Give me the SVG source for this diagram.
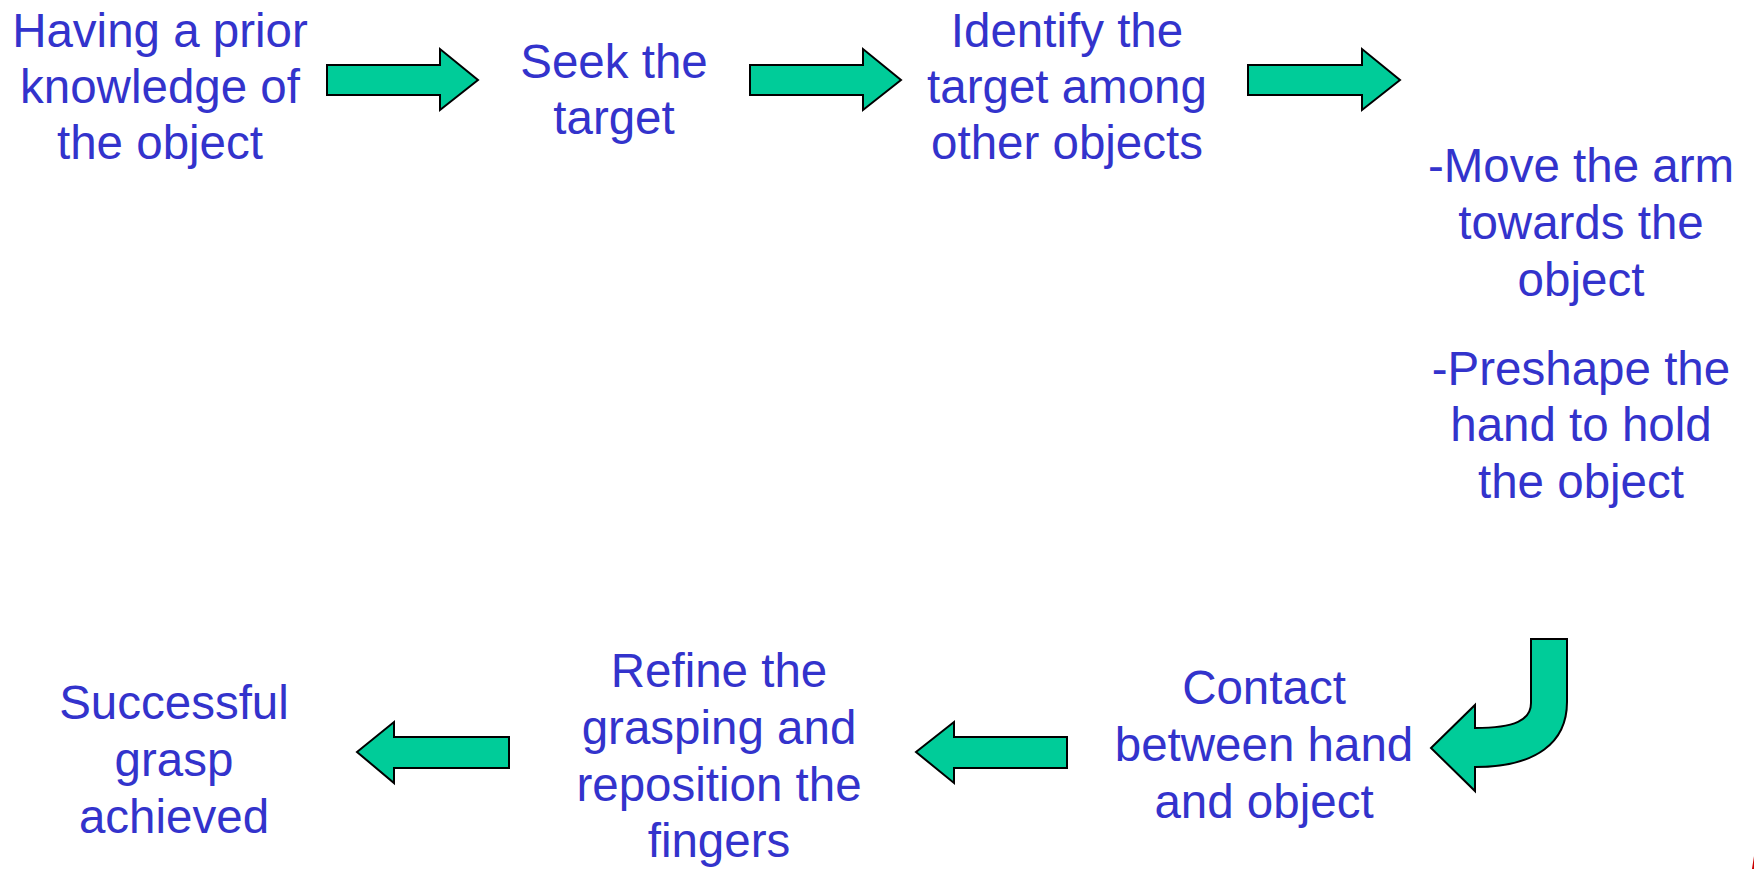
<svg xmlns="http://www.w3.org/2000/svg" width="1754" height="869" viewBox="0 0 1754 869">
<style>
.t{font-family:"Liberation Sans",Arial,sans-serif;font-size:47.5px;fill:#3333CC;text-anchor:middle}
.a{fill:#00CC99;stroke:#000;stroke-width:2;stroke-linejoin:miter}
</style>
<rect width="1754" height="869" fill="#fff"/>
<g id="n1"><text class="t" x="160" y="47">Having a prior</text><text class="t" x="160" y="103">knowledge of</text><text class="t" x="160" y="159">the object</text></g>
<g id="n2"><text class="t" x="614" y="78">Seek the</text><text class="t" x="614" y="134">target</text></g>
<g id="n3"><text class="t" x="1067" y="47">Identify the</text><text class="t" x="1067" y="103">target among</text><text class="t" x="1067" y="159">other objects</text></g>
<g id="n4"><text class="t" x="1581" y="182">-Move the arm</text><text class="t" x="1581" y="239">towards the</text><text class="t" x="1581" y="296">object</text><text class="t" x="1581" y="385">-Preshape the</text><text class="t" x="1581" y="441">hand to hold</text><text class="t" x="1581" y="498">the object</text></g>
<g id="n5"><text class="t" x="1264" y="704">Contact</text><text class="t" x="1264" y="761">between hand</text><text class="t" x="1264" y="818">and object</text></g>
<g id="n6"><text class="t" x="719" y="687">Refine the</text><text class="t" x="719" y="744">grasping and</text><text class="t" x="719" y="801">reposition the</text><text class="t" x="719" y="857">fingers</text></g>
<g id="n7"><text class="t" x="174" y="719">Successful</text><text class="t" x="174" y="776">grasp</text><text class="t" x="174" y="833">achieved</text></g>
<g id="connectors">
<path class="a" d="M327,65 H440 V49 L478,80 L440,110 V95 H327 Z"/>
<path class="a" d="M750,65 H863 V49 L901,80 L863,110 V95 H750 Z"/>
<path class="a" d="M1248,65 H1362 V49 L1400,80 L1362,110 V95 H1248 Z"/>
<path class="a" d="M1531,639 H1567 V702 C1567,742 1537,767 1475,767 V791 L1431,748 L1475,705 V728 C1515,728 1531,720 1531,703 Z"/>
<path class="a" d="M1067,737 H954 V722 L916,752 L954,783 V768 H1067 Z"/>
<path class="a" d="M509,737 H394 V722 L357,752 L394,783 V768 H509 Z"/>
</g>
<path d="M1752,869 L1754,856 V869 Z" fill="#cc0000"/>
</svg>
